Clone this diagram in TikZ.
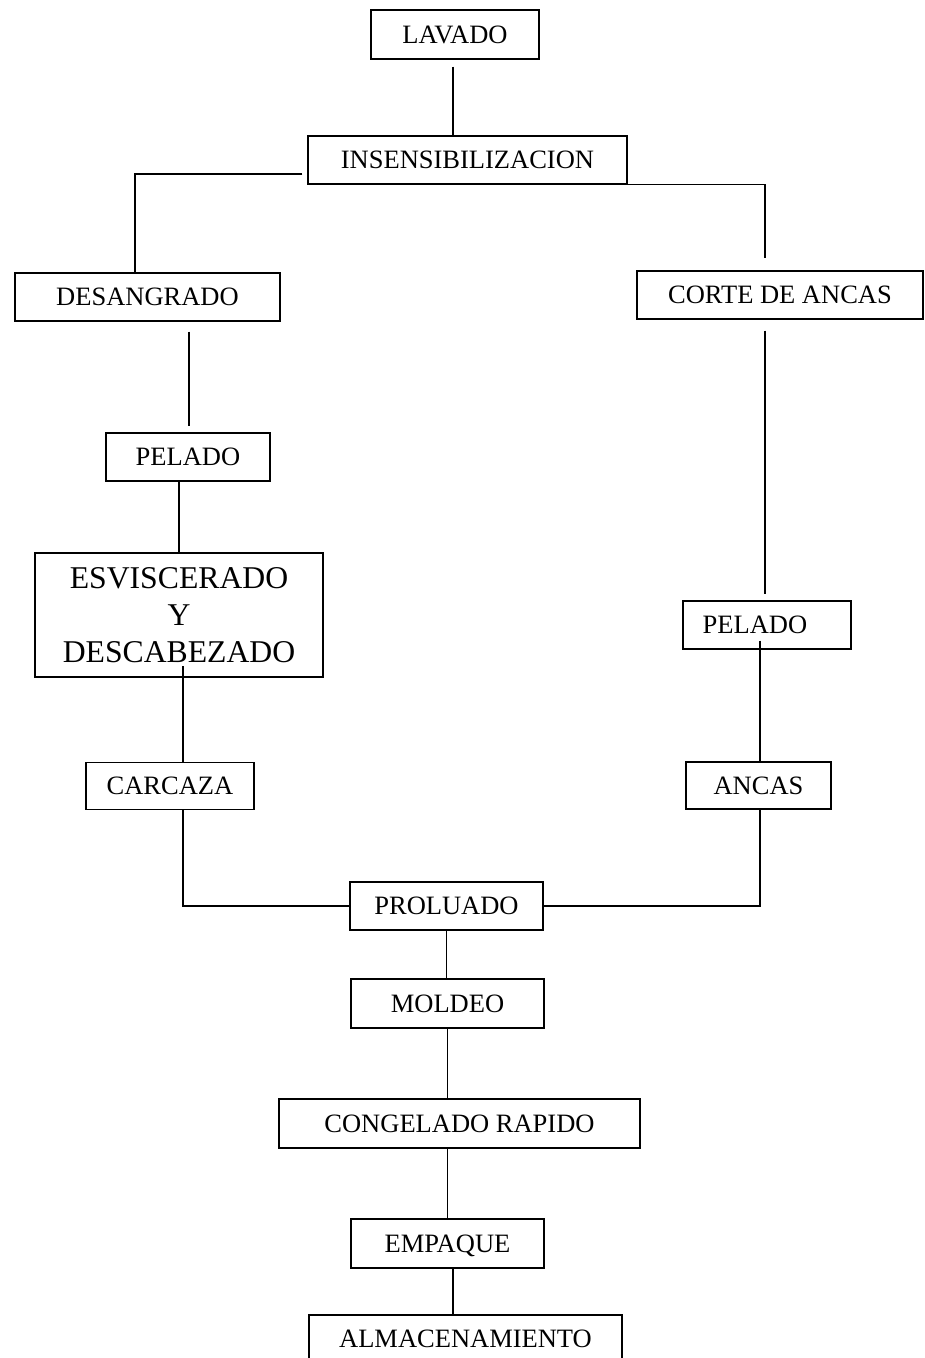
\documentclass[tikz,border=0pt]{standalone}
\usepackage{fontspec}
\setmainfont{Liberation Serif}
\usepackage{tikz}
\usetikzlibrary{shapes,arrows,positioning}

\begin{document}
\begin{tikzpicture}[x=1pt,y=-1pt,line width=1.2pt]
\tikzstyle{caja} = [rectangle, draw, text centered, inner sep=0pt, text height=17.5pt, text depth=0pt, font=\fontsize{26.5}{30}\selectfont]
\tikzstyle{grande} = [caja, align=center, text height={}, text depth={}, font=\fontsize{31.7}{37}\selectfont]
\clip (0,0) rectangle (925,1358);
\node[caja, minimum width=168pt, minimum height=49pt] (lavado) at (455,34.5) {LAVADO};
\node[caja, minimum width=319pt, minimum height=48pt] (insens) at (467.5,160) {INSENSIBILIZACION};
\node[caja, minimum width=265pt, minimum height=48pt] (desang) at (147.5,297) {DESANGRADO};
\node[caja, minimum width=286pt, minimum height=48pt] (corte) at (780,295) {CORTE DE ANCAS};
\node[caja, minimum width=164pt, minimum height=48pt] (peladoI) at (188,457) {PELADO};
\node[grande, minimum width=288pt, minimum height=124pt] (esvis) at (179,615) {ESVISCERADO\\Y\\DESCABEZADO};
\node[caja, minimum width=168pt, minimum height=48pt] (peladoD) at (767,625) {PELADO\hspace*{24pt}};
\node[caja, minimum width=168pt, minimum height=47pt] (carcaza) at (170,786) {CARCAZA};
\node[caja, minimum width=145pt, minimum height=47pt] (ancas) at (758.5,785.5) {ANCAS};
\node[caja, minimum width=193pt, minimum height=48pt] (proluado) at (446.5,906) {PROLUADO};
\node[caja, minimum width=193pt, minimum height=49pt] (moldeo) at (447.5,1003.5) {MOLDEO};
\node[caja, minimum width=361pt, minimum height=49pt] (congelado) at (459.5,1123.5) {CONGELADO RAPIDO};
\node[caja, minimum width=193pt, minimum height=49pt] (empaque) at (447.5,1243.5) {EMPAQUE};
\node[caja, minimum width=313pt, minimum height=48pt] (almacen) at (465.5,1339) {ALMACENAMIENTO};
\draw[shorten <=7pt] ([xshift=-2pt]lavado.south) -- ([xshift=-2pt]lavado.south |- insens.north);
\draw[shorten <=5pt] ([yshift=-14pt]insens.west) -| ([xshift=-12.5pt]desang.north);
\draw[shorten >=12pt] (insens.south east) -| ([xshift=-15pt]corte.north);
\draw[shorten <=10pt, shorten >=6pt] ([xshift=1pt]peladoI.north |- desang.south) -- ([xshift=1pt]peladoI.north);
\draw (esvis.north |- peladoI.south) -- (esvis.north);
\draw[shorten >=-12pt] ([xshift=13pt]carcaza.north) -- ([xshift=13pt]carcaza.north |- esvis.south);
\draw[shorten <=11pt, shorten >=6pt] ([xshift=-15pt]corte.south) -- ([xshift=-15pt]corte.south |- peladoD.north);
\draw[shorten <=-9pt] ([xshift=1.5pt]ancas.north |- peladoD.south) -- ([xshift=1.5pt]ancas.north);
\draw ([xshift=13pt]carcaza.south) |- (proluado.west);
\draw ([xshift=1.5pt]ancas.south) |- (proluado.east);
\draw (proluado.south) -- (proluado.south |- moldeo.north);
\draw (moldeo.south) -- (moldeo.south |- congelado.north);
\draw (empaque.north |- congelado.south) -- (empaque.north);
\draw ([xshift=5.5pt]empaque.south) -- ([xshift=5.5pt]empaque.south |- almacen.north);
\end{tikzpicture}
\end{document}
